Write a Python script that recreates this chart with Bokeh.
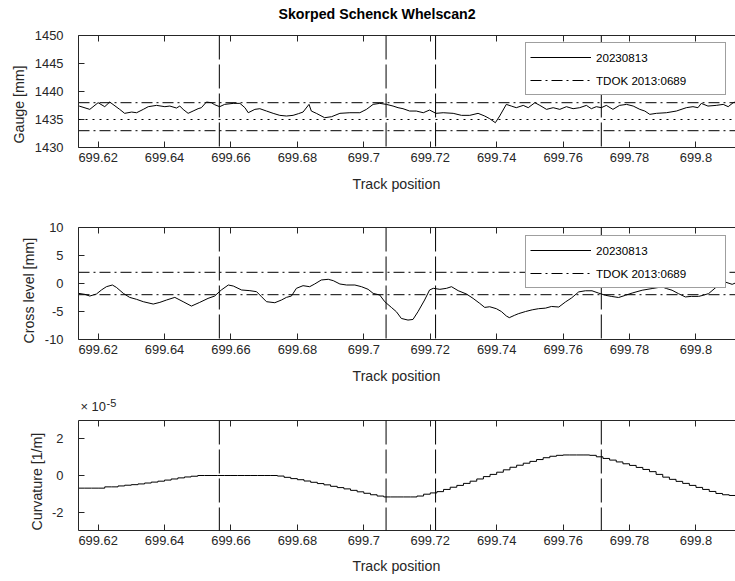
from bokeh.plotting import figure
from bokeh.models import (Range1d, FixedTicker, LinearAxis, Span, Legend,
                          LegendItem, Title, CustomLabelingPolicy)
from bokeh.layouts import column
from bokeh.embed import file_html
from bokeh.resources import INLINE

# ---------------- data ----------------
title_text = "Skorped Schenck Whelscan2"
x_label = "Track position"
x_ticks = [699.62, 699.64, 699.66, 699.68, 699.7, 699.72, 699.74, 699.76, 699.78, 699.8]
x_tick_labels = ["699.62", "699.64", "699.66", "699.68", "699.7", "699.72",
                 "699.74", "699.76", "699.78", "699.8"]
x_view = [699.6141, 699.8119]

event_pos = [699.6565, 699.7067, 699.7216, 699.7715]

series_name = "20230813"
limit_name = "TDOK 2013:0689"

gauge_pos = [
    699.6143, 699.6175, 699.6200, 699.6220, 699.6235, 699.6265, 699.6280, 699.6301,
    699.6316, 699.6336, 699.6351, 699.6376, 699.6401, 699.6416, 699.6436, 699.6446,
    699.6456, 699.6471, 699.6486, 699.6501, 699.6511, 699.6526, 699.6541, 699.6551,
    699.6566, 699.6581, 699.6607, 699.6627, 699.6642, 699.6652, 699.6672, 699.6687,
    699.6707, 699.6727, 699.6747, 699.6767, 699.6787, 699.6803, 699.6817, 699.6835,
    699.6842, 699.6857, 699.6882, 699.6903, 699.6928, 699.6958, 699.6988, 699.7008,
    699.7028, 699.7048, 699.7068, 699.7088, 699.7103, 699.7118, 699.7138, 699.7158,
    699.7179, 699.7198, 699.7217, 699.7239, 699.7269, 699.7294, 699.7319, 699.7344,
    699.7364, 699.7379, 699.7396, 699.7409, 699.7429, 699.7444, 699.7459, 699.7480,
    699.7495, 699.7515, 699.7530, 699.7550, 699.7570, 699.7590, 699.7610, 699.7630,
    699.7650, 699.7670, 699.7685, 699.7700, 699.7715, 699.7730, 699.7750, 699.7770,
    699.7791, 699.7811, 699.7831, 699.7846, 699.7861, 699.7881, 699.7911, 699.7941,
    699.7971, 699.7991, 699.8006, 699.8016, 699.8036, 699.8061, 699.8082, 699.8097,
    699.8112, 699.8128]
gauge_mm = [
    1437.40, 1436.81, 1438.00, 1437.29, 1438.12, 1436.81, 1436.10, 1436.33,
    1436.21, 1436.81, 1437.29, 1437.52, 1437.29, 1437.40, 1437.05, 1437.40,
    1436.81, 1436.10, 1436.51, 1436.93, 1437.11, 1438.12, 1438.00, 1437.64,
    1437.29, 1437.70, 1437.88, 1437.88, 1437.11, 1436.21, 1436.81, 1436.93,
    1436.51, 1436.10, 1435.74, 1435.62, 1435.74, 1436.04, 1436.33, 1437.70,
    1436.51, 1436.10, 1435.32, 1435.50, 1436.10, 1436.21, 1436.21, 1436.81,
    1437.70, 1437.88, 1437.70, 1437.40, 1437.11, 1436.93, 1436.51, 1436.51,
    1436.21, 1436.69, 1436.10, 1436.21, 1436.10, 1435.74, 1435.74, 1436.10,
    1435.62, 1435.14, 1434.43, 1435.62, 1437.70, 1437.40, 1437.11, 1437.52,
    1437.11, 1438.00, 1437.52, 1436.81, 1437.11, 1436.81, 1437.29, 1436.93,
    1437.11, 1437.52, 1436.93, 1437.29, 1437.11, 1437.52, 1436.81, 1437.52,
    1437.70, 1437.40, 1436.81, 1436.51, 1435.92, 1436.10, 1436.21, 1436.51,
    1437.11, 1437.29, 1437.11, 1437.88, 1437.40, 1437.52, 1437.70, 1437.29,
    1438.00, 1438.30]
gauge_limits = [1438, 1433]
gauge_nominal = 1435
gauge_ticks = [1430, 1435, 1440, 1445, 1450]

cross_pos = [
    699.6141, 699.6160, 699.6175, 699.6195, 699.6210, 699.6225, 699.6243, 699.6255,
    699.6276, 699.6295, 699.6316, 699.6336, 699.6366, 699.6386, 699.6406, 699.6431,
    699.6456, 699.6481, 699.6506, 699.6531, 699.6551, 699.6571, 699.6592, 699.6607,
    699.6632, 699.6657, 699.6677, 699.6692, 699.6707, 699.6732, 699.6752, 699.6767,
    699.6782, 699.6797, 699.6817, 699.6837, 699.6852, 699.6872, 699.6893, 699.6908,
    699.6928, 699.6948, 699.6973, 699.6993, 699.7013, 699.7028, 699.7048, 699.7063,
    699.7083, 699.7098, 699.7113, 699.7133, 699.7148, 699.7163, 699.7183, 699.7198,
    699.7209, 699.7229, 699.7249, 699.7264, 699.7284, 699.7309, 699.7329, 699.7349,
    699.7364, 699.7379, 699.7399, 699.7414, 699.7429, 699.7438, 699.7453, 699.7465,
    699.7487, 699.7507, 699.7526, 699.7547, 699.7565, 699.7587, 699.7607, 699.7625,
    699.7647, 699.7667, 699.7687, 699.7706, 699.7727, 699.7745, 699.7767, 699.7788,
    699.7808, 699.7838, 699.7868, 699.7898, 699.7911, 699.7928, 699.7947, 699.7968,
    699.7986, 699.8008, 699.8022, 699.8038, 699.8058, 699.8073, 699.8088, 699.8109,
    699.8119]
cross_mm = [
    -1.76, -1.94, -2.24, -1.88, -1.16, -0.57, -0.27, -0.69,
    -1.76, -2.48, -2.83, -3.25, -3.67, -3.37, -2.95, -2.48,
    -3.25, -4.03, -3.37, -2.66, -2.24, -1.16, -0.27, -0.45,
    -1.16, -1.28, -1.46, -2.36, -3.25, -3.43, -2.95, -2.48,
    -2.24, -0.86, -0.39, -0.57, -0.09, 0.63, 0.75, 0.51,
    -0.09, -0.27, -0.27, -0.57, -1.04, -1.76, -2.06, -3.25,
    -4.27, -5.04, -6.24, -6.53, -6.42, -5.04, -2.95, -1.16,
    -0.86, -1.04, -0.86, -0.57, -1.28, -1.88, -2.66, -3.55,
    -4.27, -4.15, -4.50, -5.00, -5.80, -6.10, -5.70, -5.40,
    -5.00, -4.70, -4.50, -4.40, -4.10, -4.20, -3.30, -2.60,
    -1.50, -1.30, -1.30, -1.70, -2.10, -2.30, -2.50, -2.10,
    -1.70, -1.20, -0.90, -0.60, -0.90, -1.20, -1.80, -2.40,
    -2.30, -2.30, -2.10, -1.80, -0.80, -0.10, 0.26, -0.15,
    0.10]
cross_limits = [2, -2]
cross_ticks = [-10, -5, 0, 5, 10]

curv_pos = [
    699.614, 699.616, 699.618, 699.620, 699.622, 699.624, 699.626, 699.628, 699.630, 699.632,
    699.634, 699.636, 699.638, 699.640, 699.642, 699.644, 699.646, 699.648, 699.650, 699.652,
    699.654, 699.656, 699.658, 699.660, 699.662, 699.664, 699.666, 699.668, 699.670, 699.672,
    699.674, 699.676, 699.678, 699.680, 699.682, 699.684, 699.686, 699.688, 699.690, 699.692,
    699.694, 699.696, 699.698, 699.700, 699.702, 699.704, 699.706, 699.708, 699.710, 699.712,
    699.714, 699.716, 699.718, 699.720, 699.722, 699.724, 699.726, 699.728, 699.730, 699.732,
    699.734, 699.736, 699.738, 699.740, 699.742, 699.744, 699.746, 699.748, 699.750, 699.752,
    699.754, 699.756, 699.758, 699.760, 699.762, 699.764, 699.766, 699.768, 699.770, 699.772,
    699.774, 699.776, 699.778, 699.780, 699.782, 699.784, 699.786, 699.788, 699.790, 699.792,
    699.794, 699.796, 699.798, 699.800, 699.802, 699.804, 699.806, 699.808, 699.810, 699.812]
curv_e5 = [  # curvature in units of 1e-5 1/m
    -0.69, -0.69, -0.69, -0.69, -0.62, -0.62, -0.57, -0.53, -0.50, -0.46,
    -0.41, -0.36, -0.31, -0.25, -0.19, -0.13, -0.08, -0.04, 0.00, 0.00,
    0.00, 0.00, 0.00, 0.00, 0.00, 0.00, 0.00, 0.00, 0.00, 0.00,
    -0.03, -0.10, -0.17, -0.23, -0.30, -0.37, -0.44, -0.51, -0.59, -0.66,
    -0.73, -0.81, -0.89, -0.97, -1.05, -1.12, -1.17, -1.17, -1.17, -1.17,
    -1.17, -1.12, -1.02, -0.95, -0.88, -0.76, -0.64, -0.54, -0.43, -0.31,
    -0.19, -0.06, 0.06, 0.18, 0.31, 0.45, 0.56, 0.67, 0.77, 0.87,
    0.97, 1.05, 1.10, 1.12, 1.12, 1.12, 1.12, 1.10, 1.02, 0.93,
    0.84, 0.74, 0.64, 0.55, 0.44, 0.33, 0.21, 0.06, -0.09, -0.21,
    -0.32, -0.43, -0.54, -0.65, -0.76, -0.87, -0.98, -1.05, -1.09, -1.12]
curv_ticks = [-2, 0, 2]
curv_exponent = "-5"

# ---------------- style ----------------
FONT = "Liberation Sans"
AX = "#262626"
TICK_FS = "12.9px"
LAB_FS = "14.2px"
LEG_FS = "11.6px"
DASHDOT = "11 4 2 4"
VDASH = "24 5"

NO_LABELS = CustomLabelingPolicy(code="for (const i of indices) { indices.unset(i) } return indices")


def style_axis(ax, show_labels=True):
    ax.axis_line_color = AX
    ax.axis_line_width = 1
    ax.major_tick_line_color = AX
    ax.major_tick_in = 6
    ax.major_tick_out = 0
    ax.minor_tick_line_color = None
    ax.major_label_text_font = FONT
    ax.major_label_text_color = AX
    ax.major_label_text_font_size = TICK_FS
    if not show_labels:
        ax.major_label_policy = NO_LABELS
        ax.major_label_standoff = 0


def make_fig(height, top, bottom, yr, yticks, ylab, ylab_offset, xlab_standoff):
    p = figure(width=735, height=height, x_range=Range1d(*x_view), y_range=Range1d(*yr),
               output_backend="svg", toolbar_location=None, title=None,
               min_border_left=78, min_border_right=0, min_border_top=top,
               min_border_bottom=bottom, x_axis_type=None, y_axis_type=None)
    p.outline_line_color = None
    p.background_fill_color = "white"
    p.border_fill_color = "white"

    xb = LinearAxis(ticker=FixedTicker(ticks=x_ticks),
                    major_label_overrides=dict(zip(x_ticks, x_tick_labels)))
    style_axis(xb)
    xb.major_label_standoff = 5
    p.add_layout(xb, "below")

    xt = LinearAxis(ticker=FixedTicker(ticks=x_ticks))
    style_axis(xt, show_labels=False)
    p.add_layout(xt, "above")

    yl = LinearAxis(ticker=FixedTicker(ticks=yticks),
                    major_label_overrides={t: str(t) for t in yticks})
    style_axis(yl)
    yl.major_label_standoff = 15
    p.add_layout(yl, "left")

    p.add_layout(Title(text=x_label, align="left", offset=274, text_font=FONT,
                       text_font_size=LAB_FS, text_font_style="normal",
                       text_color=AX, standoff=xlab_standoff), "below")
    p.add_layout(Title(text=ylab, align="left", offset=ylab_offset, text_font=FONT,
                       text_font_size=LAB_FS, text_font_style="normal",
                       text_color=AX, standoff=10), "left")
    return p


def add_events(p):
    for xe in event_pos:
        p.add_layout(Span(location=xe, dimension="height", line_color="black",
                          line_width=1, line_dash=VDASH))


def add_legend(p, r1, r2, loc):
    leg = Legend(items=[LegendItem(label=series_name, renderers=[r1]),
                        LegendItem(label=limit_name, renderers=[r2])],
                 location=loc, orientation="vertical",
                 border_line_color="#404040", border_line_width=1,
                 background_fill_color="white", background_fill_alpha=1.0,
                 padding=4, spacing=3, margin=0,
                 glyph_height=20, glyph_width=61, label_height=20, label_width=125,
                 label_standoff=5, label_text_font=FONT, label_text_font_size=LEG_FS,
                 label_text_color="black")
    p.add_layout(leg)


# ---- Gauge ----
p1 = make_fig(200, 35, 53, (1430, 1450), gauge_ticks, "Gauge [mm]", 4, 18)
p1.add_layout(Title(text=title_text, align="left", offset=200, text_font=FONT,
                    text_font_size=LAB_FS, text_font_style="bold",
                    text_color="black", standoff=3), "above")
add_events(p1)
p1.add_layout(Span(location=gauge_nominal, dimension="width", line_color="black",
                   line_width=1, line_dash="2 5"))
g_lim = p1.multi_line(xs=[list(x_view) for _ in gauge_limits],
                      ys=[[v, v] for v in gauge_limits],
                      line_color="black", line_width=1, line_dash=DASHDOT)
g_line = p1.line(gauge_pos, gauge_mm, line_color="black", line_width=1)
add_legend(p1, g_line, g_lim, (447, 52))

# ---- Cross level ----
p2 = make_fig(193, 27, 54, (-10, 10), cross_ticks, "Cross level [mm]", -4, 18)
add_events(p2)
c_lim = p2.multi_line(xs=[list(x_view) for _ in cross_limits],
                      ys=[[v, v] for v in cross_limits],
                      line_color="black", line_width=1, line_dash=DASHDOT)
c_line = p2.line(cross_pos, cross_mm, line_color="black", line_width=1)
add_legend(p2, c_line, c_lim, (447, 51))

# ---- Curvature ----
p3 = make_fig(188, 27, 49, (-3, 3), curv_ticks, "Curvature [1/m]", 0, 16)
add_events(p3)
p3.step(curv_pos, curv_e5, mode="after", line_color="black", line_width=1)
p3.add_layout(Title(text="\u00d7 10", align="left", offset=2, text_font=FONT,
                    text_font_size=TICK_FS, text_font_style="normal",
                    text_color=AX, standoff=-10), "above")
p3.add_layout(Title(text=curv_exponent, align="left", offset=28, text_font=FONT,
                    text_font_size="11px", text_font_style="normal",
                    text_color=AX, standoff=-10), "above")

layout = column(p1, p2, p3, spacing=0)
open("out.html", "w").write(file_html(layout, INLINE))
